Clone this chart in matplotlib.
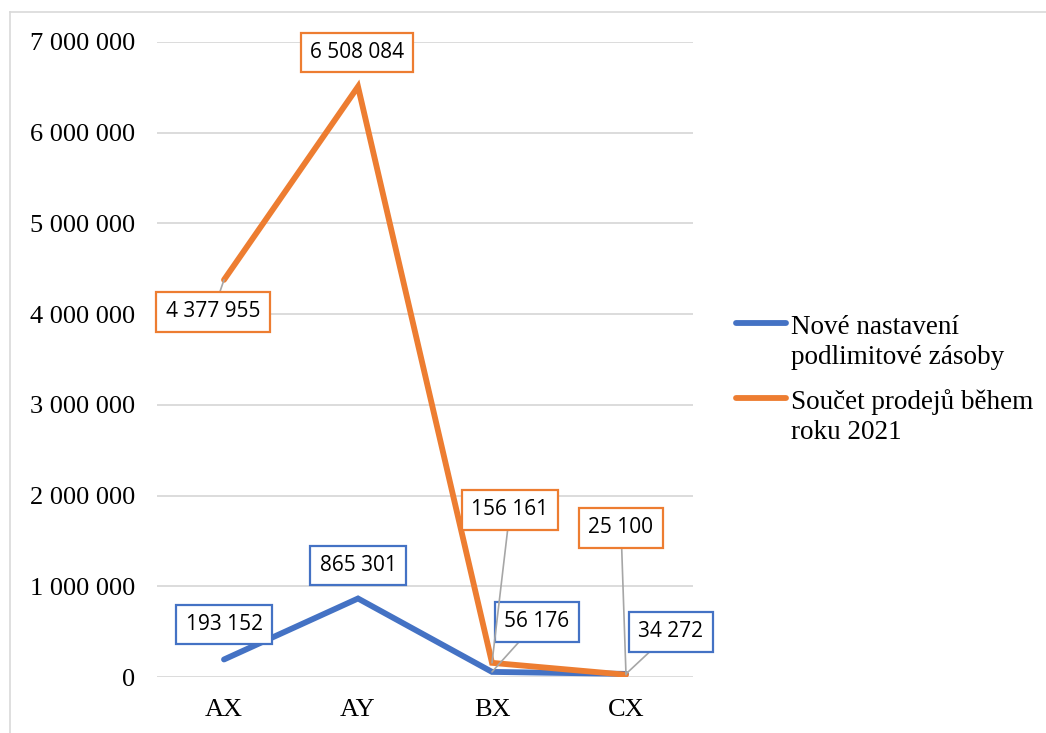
import matplotlib.pyplot as plt
from matplotlib.lines import Line2D
import numpy as np

# Data
categories = ['AX', 'AY', 'BX', 'CX']
nove_nastaveni = [193152, 865301, 56176, 34272]
soucet_prodeju = [4377955, 6508084, 156161, 25100]
series_names = ['Nové nastavení\npodlimitové zásoby', 'Součet prodejů během\nroku 2021']

blue = '#4472C4'
orange = '#ED7D31'

# label offsets in pixels from the point (dx, dy), and whether a leader line is drawn
blue_offsets = [(0, 35, False), (0, 33, False), (45, 50, True), (45, 42, True)]
orange_offsets = [(-11, -32, True), (-1, 34, False), (18, 153, True), (-5, 147, True)]

def fmt(v):
    return f'{v:,}'.replace(',', ' ')

W, H = 1046, 733
fig = plt.figure(figsize=(W / 100, H / 100), dpi=100)
ax = fig.add_axes([157 / W, 1 - 677 / H, 536 / W, 635 / H])

x = np.arange(len(categories))
lw = 4.2
ax.plot(x, nove_nastaveni, color=blue, lw=lw, solid_capstyle='round', solid_joinstyle='miter', zorder=3)
ax.plot(x, soucet_prodeju, color=orange, lw=lw, solid_capstyle='round', solid_joinstyle='miter', zorder=3)

ax.set_xlim(-0.5, 3.5)
ax.set_ylim(0, 7000000)
ax.set_yticks(np.arange(0, 7000001, 1000000))
ax.set_yticklabels([fmt(v) for v in range(0, 7000001, 1000000)])
ax.set_xticks(x)
ax.set_xticklabels(categories)
for s in ax.spines.values():
    s.set_visible(False)
ax.tick_params(length=0, labelsize=19, pad=0)
ax.tick_params(axis='y', pad=16)
ax.tick_params(axis='x', pad=16)
for lbl in ax.get_xticklabels() + ax.get_yticklabels():
    lbl.set_fontfamily('Liberation Serif')
ax.grid(axis='y', color='#d9d9d9', lw=1.3)
ax.set_axisbelow(True)

# Data labels
for values, offsets, col in [(nove_nastaveni, blue_offsets, blue), (soucet_prodeju, orange_offsets, orange)]:
    for i, v in enumerate(values):
        dx, dy, leader = offsets[i]
        ax.annotate(fmt(v), xy=(i, v), xytext=(dx, dy), textcoords='offset pixels',
                    ha='center', va='center', fontsize=15, family='Open Sans', zorder=5,
                    bbox=dict(boxstyle='square,pad=0.45', fc='white', ec=col, lw=1.6),
                    arrowprops=dict(arrowstyle='-', color='#a6a6a6', lw=1.2, shrinkA=0, shrinkB=0)
                    if leader else None)

# Legend (drawn by hand so the key sits on the first text line, like Excel)
for name, col, y0 in [(series_names[0], blue, 323), (series_names[1], orange, 398)]:
    fig.add_artist(Line2D([736 / W, 786 / W], [1 - y0 / H, 1 - y0 / H], color=col, lw=lw,
                          solid_capstyle='round'))
    for k, line in enumerate(name.split('\n')):
        fig.text(791 / W, 1 - (y0 + 11 + 30 * k) / H, line, family='Liberation Serif',
                 fontsize=19.5, va='baseline', ha='left')

# Outer frame
fig.add_artist(Line2D([10 / W, 10 / W], [0, 1 - 12 / H], color='#d9d9d9', lw=1.2))
fig.add_artist(Line2D([10 / W, 1], [1 - 12 / H, 1 - 12 / H], color='#d9d9d9', lw=1.2))

fig.savefig('out.png', dpi=100)
